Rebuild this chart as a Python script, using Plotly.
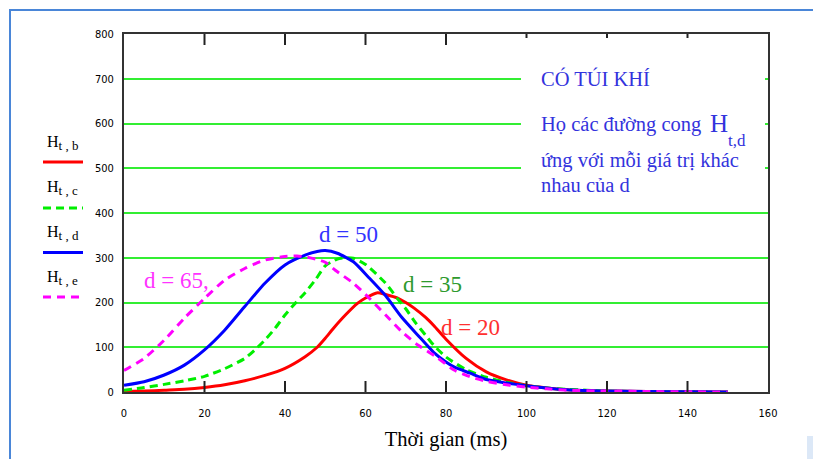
import plotly.graph_objects as go

# ---- data ----
t_b = [0, 5, 10, 15, 20, 25, 30, 35, 40, 45, 48, 50, 52, 55, 58, 60, 63, 65, 68, 70, 72, 75, 77, 80, 85, 90, 95, 100, 105, 110, 115, 120, 130, 140, 150]
H_b = [1, 2, 4, 6, 10, 16, 25, 37, 53, 79, 100, 120, 142, 172, 198, 210, 222, 218, 210, 200, 188, 166, 148, 118, 75, 45, 27, 15, 9, 5, 3, 2, 1, 0.5, 0]

t_c = [0, 5, 10, 15, 20, 25, 30, 32.5, 35, 37.5, 40, 42.5, 45, 47.5, 50, 53, 55, 57, 60, 65, 68, 70, 72.5, 75, 77, 80, 85, 90, 95, 100, 105, 110, 115, 120, 130, 140, 150]
H_c = [4, 10, 17, 25, 35, 52, 75, 94, 116, 142, 172, 198, 222, 250, 282, 297, 300, 299, 285, 243, 208, 186, 154, 126, 104, 78, 50, 33, 22, 14, 9, 6, 4, 2, 1, 0.5, 0]

t_d = [0, 5, 10, 15, 20, 25, 30, 35, 40, 45, 48, 50, 53, 57, 61, 65, 69, 73, 77, 80, 82, 86, 90, 95, 100, 105, 110, 120, 130, 140, 150]
H_d = [15, 23, 38, 60, 94, 138, 191, 243, 284, 306, 314, 316, 310, 291, 254, 215, 167, 127, 88, 67, 56, 42, 28, 20, 14, 9, 5, 2, 1, 0.5, 0]

t_e = [0, 5, 10, 15, 20, 25, 30, 35, 40, 43, 45, 48, 50, 52.5, 57, 61, 65, 69, 73, 77.5, 82, 86, 90, 95, 100, 105, 110, 120, 130, 140, 150]
H_e = [48, 75, 116, 165, 209, 250, 276, 295, 303, 304, 302, 296, 290, 272, 243, 209, 172, 135, 105, 79, 49, 34, 24, 16, 11, 7, 4, 2, 1, 0.5, 0]

x_ticks = [0, 20, 40, 60, 80, 100, 120, 140, 160]
y_ticks = [0, 100, 200, 300, 400, 500, 600, 700, 800]

# ---- layout geometry ----
W, Hpx = 813, 459
L, R, T, B = 124, 768, 34, 392
Y_MAX = 800


def px(x):
    return (x - L) / (R - L)


def py(y):
    return (B - y) / (B - T)


SERIF = "Liberation Serif, Times New Roman, serif"
NARROW = "Liberation Sans Narrow, Arial Narrow, DejaVu Sans Condensed, Liberation Sans, sans-serif"

fig = go.Figure()
fig.add_trace(go.Scatter(x=t_b, y=H_b, mode="lines", name="H t,b",
                         line=dict(color="#ff0000", width=3, shape="spline", smoothing=0.6)))
fig.add_trace(go.Scatter(x=t_c, y=H_c, mode="lines", name="H t,c",
                         line=dict(color="#00ee00", width=3, dash="8px,5px", shape="spline", smoothing=0.6)))
fig.add_trace(go.Scatter(x=t_d, y=H_d, mode="lines", name="H t,d",
                         line=dict(color="#0000ff", width=3, shape="spline", smoothing=0.6)))
fig.add_trace(go.Scatter(x=t_e, y=H_e, mode="lines", name="H t,e",
                         line=dict(color="#ff00ff", width=3, dash="8px,6px", shape="spline", smoothing=0.6)))

# inward tick marks on bottom and top x axes, drawn through the axis scales
unit_per_px = Y_MAX / (B - T)
for v in x_ticks[1:-1]:
    top_len = 11 if v <= 80 else 4
    fig.add_trace(go.Scatter(x=[v, v], y=[0, 11 * unit_per_px], mode="lines", hoverinfo="skip",
                             showlegend=False, line=dict(color="#222222", width=2)))
    fig.add_trace(go.Scatter(x=[v, v], y=[Y_MAX, Y_MAX - top_len * unit_per_px], mode="lines",
                             hoverinfo="skip", showlegend=False, line=dict(color="#222222", width=2)))

shapes = []
# outer blue frame (top and left)
shapes.append(dict(type="line", xref="paper", yref="paper", x0=px(9), x1=px(813), y0=py(10), y1=py(10),
                   line=dict(color="#4a86d8", width=2)))
shapes.append(dict(type="line", xref="paper", yref="paper", x0=px(10), x1=px(10), y0=py(10), y1=py(459),
                   line=dict(color="#4a86d8", width=2)))
shapes.append(dict(type="rect", xref="paper", yref="paper", x0=px(807), x1=px(813), y0=py(459), y1=py(436),
                   fillcolor="#dce8f7", line=dict(width=0)))
# white box behind the text block
shapes.append(dict(type="rect", xref="paper", yref="paper", x0=px(521), x1=px(765), y0=py(198), y1=py(50),
                   fillcolor="white", line=dict(width=0), layer="above"))

# manual legend at left
leg = [("t , b", "#ff0000", "solid", 143, 162),
       ("t , c", "#00ee00", "8px,5px", 188, 208),
       ("t , d", "#0000ff", "solid", 233, 252.5),
       ("t , e", "#ff00ff", "8px,6px", 278, 297)]
annotations = []
for sub, col, dash, tyy, ly in leg:
    shapes.append(dict(type="line", xref="paper", yref="paper", x0=px(43), x1=px(83), y0=py(ly), y1=py(ly),
                       line=dict(color=col, width=3, dash=dash)))
    annotations.append(dict(xref="paper", yref="paper", x=px(45), y=py(tyy), xanchor="left", yanchor="middle",
                            text="H<sub><span style='font-size:13px'>%s</span></sub>" % sub, showarrow=False,
                            font=dict(family=SERIF, size=16, color="black")))

BLUE_TXT = "#3333dd"
TXT = 20.5
# curve labels
annotations += [
    dict(xref="paper", yref="paper", x=px(348), y=py(234), text="d = 50", showarrow=False,
         xanchor="center", yanchor="middle", font=dict(family=SERIF, size=23, color="#3333ff")),
    dict(xref="paper", yref="paper", x=px(432), y=py(284), text="d = 35", showarrow=False,
         xanchor="center", yanchor="middle", font=dict(family=SERIF, size=23, color="#2e9a2e")),
    dict(xref="paper", yref="paper", x=px(470), y=py(327), text="d = 20", showarrow=False,
         xanchor="center", yanchor="middle", font=dict(family=SERIF, size=23, color="#ff3030")),
    dict(xref="paper", yref="paper", x=px(176), y=py(280), text="d = 65,", showarrow=False,
         xanchor="center", yanchor="middle", font=dict(family=SERIF, size=23, color="#ff33ff")),
    dict(xref="paper", yref="paper", x=px(539), y=py(78), xanchor="left", yanchor="middle", text="CÓ TÚI KHÍ",
         showarrow=False, font=dict(family=SERIF, size=TXT, color=BLUE_TXT)),
    dict(xref="paper", yref="paper", x=px(539), y=py(124), xanchor="left", yanchor="middle",
         text="Họ các đường cong", showarrow=False, font=dict(family=SERIF, size=TXT, color=BLUE_TXT)),
    dict(xref="paper", yref="paper", x=px(708), y=py(123), xanchor="left", yanchor="middle",
         text="H", showarrow=False, font=dict(family=SERIF, size=25, color=BLUE_TXT)),
    dict(xref="paper", yref="paper", x=px(726), y=py(140), xanchor="left", yanchor="middle",
         text="t,d", showarrow=False, font=dict(family=SERIF, size=17, color=BLUE_TXT)),
    dict(xref="paper", yref="paper", x=px(539), y=py(160), xanchor="left", yanchor="middle",
         text="ứng với mỗi giá trị khác", showarrow=False, font=dict(family=SERIF, size=TXT, color=BLUE_TXT)),
    dict(xref="paper", yref="paper", x=px(539), y=py(185), xanchor="left", yanchor="middle",
         text="nhau của d", showarrow=False, font=dict(family=SERIF, size=TXT, color=BLUE_TXT)),
]

fig.update_layout(
    width=W, height=Hpx,
    margin=dict(l=L, r=W - R, t=T, b=Hpx - B, pad=0, autoexpand=False),
    paper_bgcolor="white", plot_bgcolor="white",
    showlegend=False,
    shapes=shapes, annotations=annotations,
    xaxis=dict(range=[0, 160], tickmode="array", tickvals=x_ticks, ticktext=[str(v) for v in x_ticks],
               showgrid=False, zeroline=False, showline=True, linecolor="#333333", linewidth=2,
               mirror=True, ticks="",
               ticklabelstandoff=10,
               tickfont=dict(family=NARROW, size=11, color="black"),
               title=dict(text="Thời gian (ms)", font=dict(family=SERIF, size=20.5, color="black"), standoff=12)),
    yaxis=dict(range=[0, Y_MAX], tickvals=y_ticks, ticktext=[str(v) for v in y_ticks],
               showgrid=True, gridcolor="#33ee33", gridwidth=1.5, zeroline=False,
               showline=True, linecolor="#333333", linewidth=2, mirror=True, ticks="",
               ticklabelstandoff=6,
               tickfont=dict(family=NARROW, size=11, color="black")),
)

fig.write_html("out.html", config={"displayModeBar": False},
               post_script="document.body.style.margin='0';document.body.style.padding='0';")
